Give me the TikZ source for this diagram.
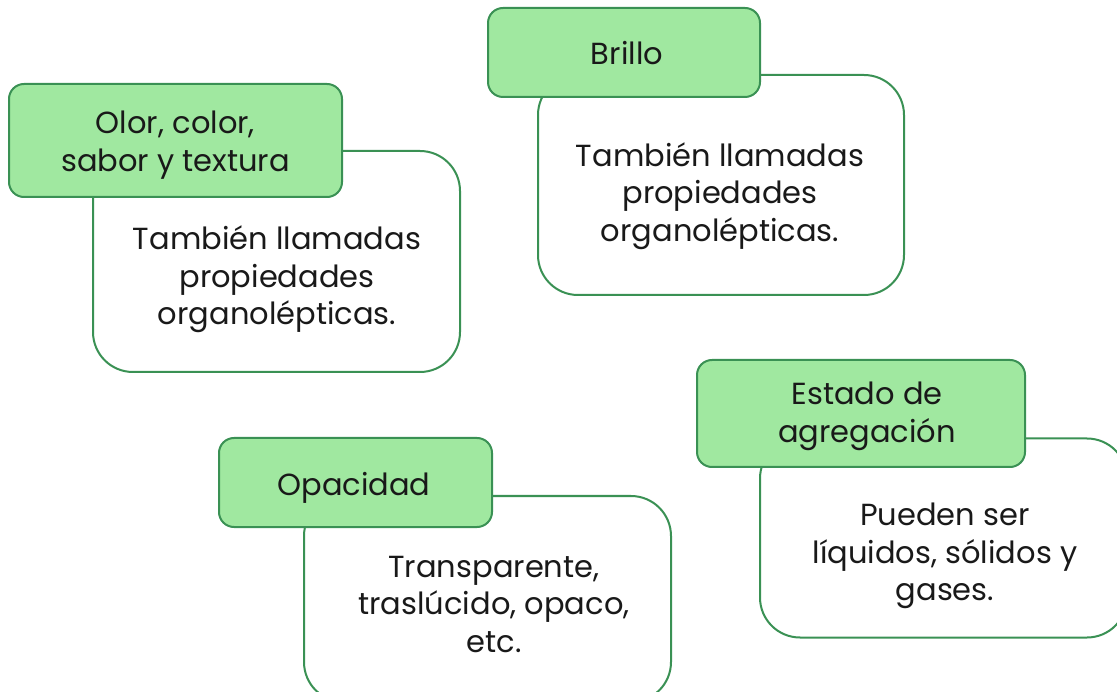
\documentclass[tikz,border=0pt]{standalone}
\usepackage{fontspec}
\setmainfont{Poppins}
\definecolor{gfill}{RGB}{160,232,160}
\definecolor{gline}{RGB}{58,145,84}
\definecolor{txt}{RGB}{25,25,25}
\tikzset{
 head/.style={draw=gline, fill=gfill, line width=2pt, rounded corners=15pt, inner sep=0pt},
 card/.style={draw=gline, fill=white, line width=2pt, rounded corners=40pt, inner sep=0pt},
 txtlab/.style={text=txt, align=center, font=\fontsize{30.5}{37.5}\selectfont, anchor=base, inner sep=0pt},
}
\begin{document}
\begin{tikzpicture}[x=1pt,y=-1pt]
\useasboundingbox (0,0) rectangle (1117,692);
\clip (0,0) rectangle (1117,692);
% group 1
\node[card, minimum width=367pt, minimum height=221pt] (c1) at (276.5,261.5) {};
\node[head, minimum width=333pt, minimum height=113pt] (h1) at (175.5,140.5) {};
\node[txtlab] (th1) at (175.5,171.5) {Olor, color,\\sabor y textura};
\node[txtlab] (tc1) at (277,325) {También llamadas\\propiedades\\organolépticas.};
% group 2
\node[card, minimum width=366pt, minimum height=220pt] (c2) at (721,185) {};
\node[head, minimum width=272pt, minimum height=89pt] (h2) at (624,52.5) {};
\node[txtlab] (th2) at (627,64.5) {Brillo};
\node[txtlab] (tc2) at (720,241.5) {También llamadas\\propiedades\\organolépticas.};
% group 3
\node[card, minimum width=367pt, minimum height=199pt] (c3) at (943.5,538) {};
\node[head, minimum width=328pt, minimum height=107pt] (h3) at (861,413.5) {};
\node[txtlab] (th3) at (867,442.5) {Estado de\\agregación};
\node[txtlab] (tc3) at (945,600.5) {Pueden ser\\líquidos, sólidos y\\gases.};
% group 4
\node[card, minimum width=367pt, minimum height=206pt] (c4) at (487.5,599) {};
\node[head, minimum width=273pt, minimum height=89pt] (h4) at (355.5,482.5) {};
\node[txtlab] (th4) at (354,495.5) {Opacidad};
\node[txtlab] (tc4) at (494,652) {Transparente,\\traslúcido, opaco,\\etc.};
\end{tikzpicture}
\end{document}
